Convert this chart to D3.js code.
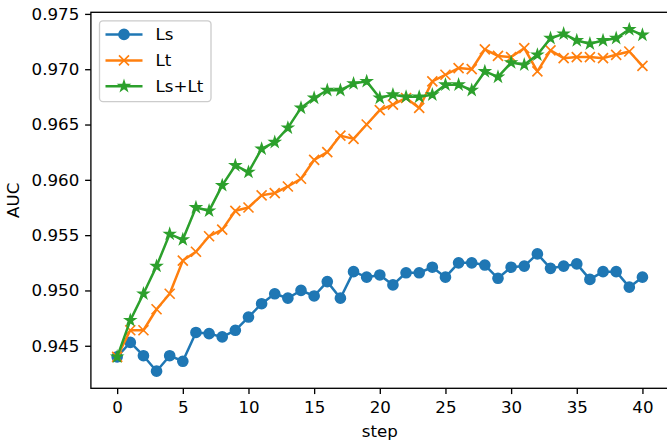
<!DOCTYPE html>
<html>
<head>
<meta charset="utf-8">
<script src="https://cdn.jsdelivr.net/npm/d3@7"></script>
<style>
  html, body { margin: 0; padding: 0; background: #fff; }
  svg { display: block; }
  text { font-family: "DejaVu Sans", sans-serif; }
</style>
</head>
<body>
<svg id="chart" width="667" height="443"></svg>
<script>
const steps = d3.range(0, 41);
const seriesNames = ["Ls", "Lt", "Ls+Lt"];
const seriesColors = ["#1f77b4", "#ff7f0e", "#2ca02c"];
const seriesMarkers = ["circle", "x", "star"];
const lsValues = [0.9440, 0.9453, 0.9441, 0.9427, 0.9441, 0.9436, 0.9462, 0.9461, 0.9458, 0.9464,
  0.9476, 0.9488, 0.9497, 0.9493, 0.9500, 0.9495, 0.9508, 0.9493, 0.9517, 0.9512,
  0.9514, 0.9505, 0.9516, 0.9516, 0.9521, 0.9512, 0.9525, 0.9525, 0.9523, 0.9511,
  0.9521, 0.9522, 0.9533, 0.9520, 0.9522, 0.9524, 0.9510, 0.9517, 0.9517, 0.9503, 0.9512];
const ltValues = [0.9440, 0.9464, 0.9464, 0.9483, 0.9497, 0.9527, 0.9535, 0.9549, 0.9555, 0.9572,
  0.9575, 0.9586, 0.9588, 0.9594, 0.9601, 0.9618, 0.9625, 0.9640, 0.9637, 0.9650,
  0.9663, 0.9668, 0.9674, 0.9665, 0.9689, 0.9695, 0.9701, 0.9700, 0.9718, 0.9712,
  0.9711, 0.9719, 0.9698, 0.9717, 0.9710, 0.9711, 0.9711, 0.9710, 0.9713, 0.9716, 0.9703];
const lsltValues = [0.9440, 0.9473, 0.9497, 0.9522, 0.9551, 0.9546, 0.9575, 0.9572, 0.9595, 0.9613,
  0.9607, 0.9628, 0.9634, 0.9647, 0.9665, 0.9674, 0.9681, 0.9681, 0.9687, 0.9689,
  0.9674, 0.9677, 0.9675, 0.9675, 0.9677, 0.9686, 0.9686, 0.9681, 0.9698, 0.9693,
  0.9706, 0.9704, 0.9713, 0.9728, 0.9732, 0.9726, 0.9723, 0.9726, 0.9728, 0.9736, 0.9731];
const xTicks = [0, 5, 10, 15, 20, 25, 30, 35, 40];
const yTicks = [0.945, 0.950, 0.955, 0.960, 0.965, 0.970, 0.975];
const xLabel = "step";
const yLabel = "AUC";

const allSeries = [lsValues, ltValues, lsltValues];

const svg = d3.select("#chart");
const margin = { left: 90.9, top: 12.3, right: 668.7, bottom: 388.3 };
const fs = 16.67;

// autoscale with 5% margins like matplotlib
const xExt = d3.extent(steps);
const xPad = (xExt[1] - xExt[0]) * 0.05;
const allVals = allSeries.flat();
const yExt = d3.extent(allVals);
const yPad = (yExt[1] - yExt[0]) * 0.05;

const x = d3.scaleLinear().domain([xExt[0] - xPad, xExt[1] + xPad]).range([margin.left, margin.right]);
const y = d3.scaleLinear().domain([yExt[0] - yPad, yExt[1] + yPad]).range([margin.bottom, margin.top]);

svg.append("defs").append("clipPath").attr("id", "clip")
  .append("rect").attr("x", margin.left).attr("y", margin.top)
  .attr("width", margin.right - margin.left).attr("height", margin.bottom - margin.top);

const line = d3.line().x((d, i) => x(steps[i])).y(d => y(d));

function starPath(R) {
  const r = R * 0.381966;
  const pts = [];
  for (let k = 0; k < 10; k++) {
    const a = -Math.PI / 2 + k * Math.PI / 5;
    const rad = k % 2 === 0 ? R : r;
    pts.push([rad * Math.cos(a), rad * Math.sin(a)]);
  }
  return "M" + pts.map(p => p[0].toFixed(2) + "," + p[1].toFixed(2)).join("L") + "Z";
}

function drawMarker(g, type, color, cx, cy) {
  if (type === "circle") {
    g.append("circle").attr("cx", cx).attr("cy", cy).attr("r", 5)
      .attr("fill", color).attr("stroke", color).attr("stroke-width", 1.67);
  } else if (type === "x") {
    g.append("path").attr("d", `M${cx - 5},${cy - 5}L${cx + 5},${cy + 5}M${cx - 5},${cy + 5}L${cx + 5},${cy - 5}`)
      .attr("stroke", color).attr("stroke-width", 1.67).attr("fill", "none");
  } else {
    g.append("path").attr("d", starPath(5)).attr("transform", `translate(${cx},${cy})`)
      .attr("fill", color).attr("stroke", color).attr("stroke-width", 1.67).attr("stroke-linejoin", "miter");
  }
}

const plot = svg.append("g").attr("clip-path", "url(#clip)");
allSeries.forEach((vals, si) => {
  const g = plot.append("g");
  g.append("path").datum(vals).attr("d", line)
    .attr("fill", "none").attr("stroke", seriesColors[si]).attr("stroke-width", 2.5)
    .attr("stroke-linejoin", "round").attr("stroke-linecap", "square");
  vals.forEach((v, i) => drawMarker(g, seriesMarkers[si], seriesColors[si], x(steps[i]), y(v)));
});

const xAxis = d3.axisBottom(x).tickValues(xTicks).tickSize(5.8).tickPadding(5.8).tickFormat(d3.format("d"));
const yAxis = d3.axisLeft(y).tickValues(yTicks).tickSize(5.8).tickPadding(5.8).tickFormat(d3.format(".3f"));

const gx = svg.append("g").attr("transform", `translate(0,${margin.bottom})`).call(xAxis);
const gy = svg.append("g").attr("transform", `translate(${margin.left},0)`).call(yAxis);
[gx, gy].forEach(g => {
  g.select(".domain").remove();
  g.selectAll(".tick line").attr("stroke", "#000").attr("stroke-width", 1.33);
  g.selectAll(".tick text").attr("font-size", fs).attr("fill", "#000").attr("font-family", "DejaVu Sans");
});
gx.selectAll(".tick text").attr("dy", "0.78em");

svg.append("rect").attr("x", margin.left).attr("y", margin.top)
  .attr("width", margin.right - margin.left).attr("height", margin.bottom - margin.top)
  .attr("fill", "none").attr("stroke", "#000").attr("stroke-width", 1.33);

svg.append("text").attr("x", (margin.left + margin.right) / 2).attr("y", 437)
  .attr("text-anchor", "middle").attr("font-size", fs).text(xLabel);
svg.append("text").attr("transform", `translate(19,${(margin.top + margin.bottom) / 2}) rotate(-90)`)
  .attr("text-anchor", "middle").attr("font-size", fs).text(yLabel);

const lg = svg.append("g");
lg.append("rect").attr("x", 99.5).attr("y", 20.8).attr("width", 111.5).attr("height", 80.8)
  .attr("rx", 3.5).attr("fill", "#fff").attr("fill-opacity", 0.8)
  .attr("stroke", "#cccccc").attr("stroke-width", 1.33);
const rowY = [34.4, 60.4, 86.2];
seriesNames.forEach((name, si) => {
  const yy = rowY[si];
  lg.append("line").attr("x1", 105.5).attr("x2", 142.5).attr("y1", yy).attr("y2", yy)
    .attr("stroke", seriesColors[si]).attr("stroke-width", 2.5);
  drawMarker(lg, seriesMarkers[si], seriesColors[si], 124, yy);
  lg.append("text").attr("x", 155.5).attr("y", yy).attr("dy", "0.36em")
    .attr("font-size", fs).attr("fill", "#000").text(name);
});
</script>
</body>
</html>
